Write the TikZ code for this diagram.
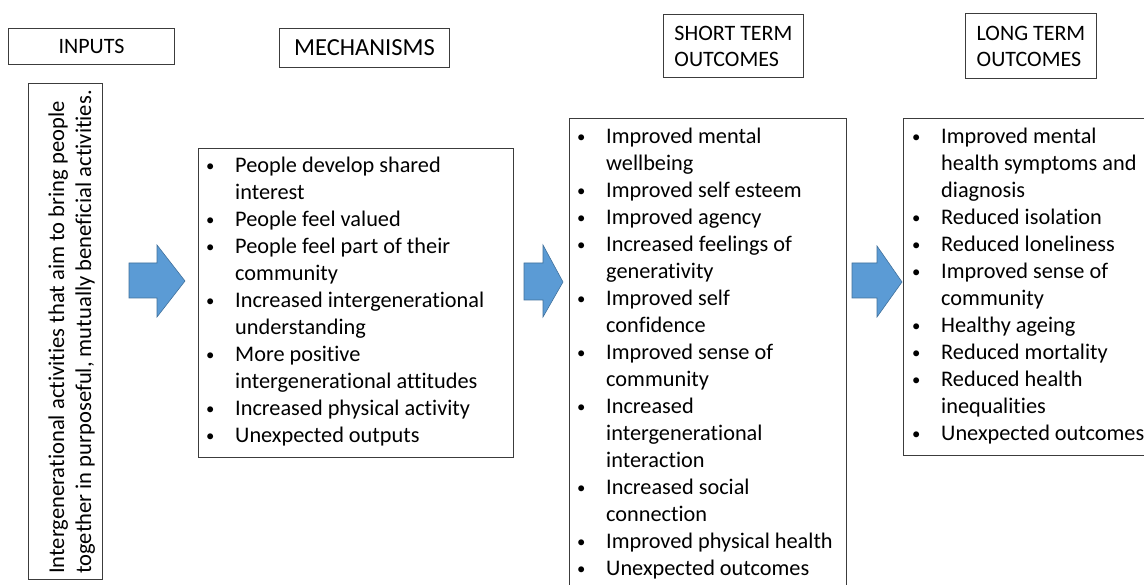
\documentclass[tikz,border=0pt]{standalone}
\usepackage{fontspec}
\setmainfont{Carlito}[Ligatures=NoCommon]
\definecolor{arrowblue}{RGB}{91,155,213}
\definecolor{arrowedge}{RGB}{65,113,156}
\definecolor{boxedge}{RGB}{60,60,60}
\newcommand{\smallbul}{\raisebox{1.3pt}{\scalebox{0.75}{\textbullet}}}
\newcommand{\bitem}[1]{\hangindent=30pt\hangafter=1\noindent\makebox[30pt][l]{\hspace{1pt}\smallbul}#1\par}
\newcommand{\blist}[1]{\parbox[t]{400pt}{\fontsize{22.3}{27}\selectfont\raggedright #1}}
\begin{document}
\begin{tikzpicture}[x=1pt,y=-1pt,
  box/.style={draw=boxedge,line width=1pt,inner sep=0pt,anchor=north west},
  txt/.style={inner sep=0pt,anchor=base west},
  bigarrow/.style={fill=arrowblue,draw=arrowedge,line width=0.6pt,line join=miter}]
\useasboundingbox[fill=white] (0,0) rectangle (1144,585);

% header boxes
\node[box,minimum width=166pt,minimum height=36pt,font=\fontsize{22}{27}\selectfont] (hin) at (8,28) {INPUTS};
\node[box,minimum width=170pt,minimum height=39pt,font=\fontsize{24.5}{29}\selectfont] (hmech) at (279,28) {MECHANISMS};
\node[box,minimum width=140pt,minimum height=63pt,align=left,font=\fontsize{22}{26}\selectfont] (hshort) at (663,14) {SHORT TERM\\OUTCOMES};
\node[box,minimum width=131pt,minimum height=65pt,align=left,font=\fontsize{22}{26}\selectfont] (hlong) at (965,13) {LONG TERM\\OUTCOMES};

% content boxes
\node[box,minimum width=74pt,minimum height=496pt] (inbox) at (28,83) {};
\node[box,minimum width=315pt,minimum height=309pt] (mechbox) at (198,148) {};
\node[box,minimum width=277pt,minimum height=490pt] (shortbox) at (569,118) {};
\node[box,minimum width=260pt,minimum height=337pt] (longbox) at (903,118) {};

% inputs text (rotated)
\node[txt,rotate=90] (intext) at (64,574) {\parbox[t]{500pt}{\fontsize{22.6}{27}\selectfont\raggedright
Intergenerational activities that aim to bring people\newline
together in purposeful, mutually beneficial activities.}};

% mechanisms
\node[txt] (mechtext) at (205,173) {\blist{%
\bitem{People develop shared\newline interest}
\bitem{People feel valued}
\bitem{People feel part of their\newline community}
\bitem{Increased intergenerational\newline understanding}
\bitem{More positive\newline intergenerational attitudes}
\bitem{Increased physical activity}
\bitem{Unexpected outputs}}};

% short term
\node[txt] (shorttext) at (576,144) {\blist{%
\bitem{Improved mental\newline wellbeing}
\bitem{Improved self esteem}
\bitem{Improved agency}
\bitem{Increased feelings of\newline generativity}
\bitem{Improved self\newline confidence}
\bitem{Improved sense of\newline community}
\bitem{Increased\newline intergenerational\newline interaction}
\bitem{Increased social\newline connection}
\bitem{Improved physical health}
\bitem{Unexpected outcomes}}};

% long term
\node[txt] (longtext) at (911,144) {\blist{%
\bitem{Improved mental\newline health symptoms and\newline diagnosis}
\bitem{Reduced isolation}
\bitem{Reduced loneliness}
\bitem{Improved sense of\newline community}
\bitem{Healthy ageing}
\bitem{Reduced mortality}
\bitem{Reduced health\newline inequalities}
\bitem{Unexpected outcomes}}};

% block arrows
\draw[bigarrow] (129,263) -- (157,263) -- (157,245) -- (185,281) -- (157,317) -- (157,298) -- (129,298) -- cycle;
\draw[bigarrow] (524,263) -- (543,263) -- (543,245) -- (563,282) -- (543,317) -- (543,300) -- (524,300) -- cycle;
\draw[bigarrow] (852,263) -- (877,263) -- (877,246) -- (902,282) -- (877,317) -- (877,298) -- (852,298) -- cycle;
\end{tikzpicture}
\end{document}
